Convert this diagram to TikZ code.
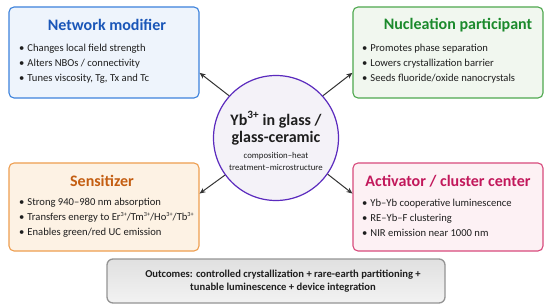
\documentclass[tikz,border=0pt]{standalone}
\usepackage{fontspec}
\setmainfont{Carlito}
\usetikzlibrary{arrows.meta,calc}
\definecolor{nmT}{HTML}{1A56B8}\definecolor{nmB}{HTML}{3C82DC}\definecolor{nmF}{HTML}{EEF4FC}
\definecolor{ncT}{HTML}{1B8A2C}\definecolor{ncB}{HTML}{4EA84E}\definecolor{ncF}{HTML}{F1F7EF}
\definecolor{szT}{HTML}{C45E12}\definecolor{szB}{HTML}{EE9E50}\definecolor{szF}{HTML}{FDF2E4}
\definecolor{acT}{HTML}{C2185B}\definecolor{acB}{HTML}{D84A7C}\definecolor{acF}{HTML}{FDF1F4}
\definecolor{ciB}{HTML}{5B2BBE}\definecolor{ciF}{HTML}{F4F2F8}
\definecolor{arr}{HTML}{333333}\definecolor{txt}{HTML}{1E1E1E}
\newcommand\supx[1]{\raisebox{0.75ex}{\fontsize{6.2}{6.2}\selectfont #1}}
\begin{document}
\begin{tikzpicture}[x=1pt,y=-1pt,
  rolebox/.style={draw, rounded corners=5pt, line width=1.1pt, minimum width=190pt, minimum height=#1, inner sep=0pt},
  roletitle/.style={font=\fontsize{16}{18}\selectfont\bfseries, inner sep=0pt, anchor=center},
  bullets/.style={font=\fontsize{10.6}{15}\selectfont, text=txt, align=left, anchor=west, inner sep=0pt},
  conn/.style={draw=arr, line width=1pt, -{Stealth[length=6pt,width=5pt]}}]
\useasboundingbox (0,0) rectangle (550,305);
\fill[white] (0,0) rectangle (550,305);
% boxes
\node[rolebox=91pt, draw=nmB, fill=nmF] (nm) at (104,52.5) {};
\node[rolebox=91pt, draw=ncB, fill=ncF] (nc) at (448,52.5) {};
\node[rolebox=88pt, draw=szB, fill=szF] (sz) at (104,207) {};
\node[rolebox=88pt, draw=acB, fill=acF] (ac) at (448,207) {};
% titles
\node[roletitle, text=nmT] (nmt) at (107,25) {Network modifier};
\node[roletitle, text=ncT] (nct) at (458,25) {Nucleation participant};
\node[roletitle, text=szT] (szt) at (102,181) {Sensitizer};
\node[roletitle, text=acT] (act) at (448,181) {Activator / cluster center};
% bullets
\node[bullets] (nmb) at (19,64) {\textbullet\hspace{3pt}Changes local field strength\\\textbullet\hspace{3pt}Alters NBOs / connectivity\\\textbullet\hspace{3pt}Tunes viscosity, Tg, Tx and Tc};
\node[bullets] (ncb) at (362,64) {\textbullet\hspace{3pt}Promotes phase separation\\\textbullet\hspace{3pt}Lowers crystallization barrier\\\textbullet\hspace{3pt}Seeds fluoride/oxide nanocrystals};
\node[bullets] (szb) at (19,218) {\textbullet\hspace{3pt}Strong 940--980 nm absorption\\\textbullet\hspace{3pt}Transfers energy to Er\supx{3+}/Tm\supx{3+}/Ho\supx{3+}/Tb\supx{3+}\\\textbullet\hspace{3pt}Enables green/red UC emission};
\node[bullets] (acb) at (362,218) {\textbullet\hspace{3pt}Yb--Yb cooperative luminescence\\\textbullet\hspace{3pt}RE--Yb--F clustering\\\textbullet\hspace{3pt}NIR emission near 1000 nm};
% center
\node[circle, draw=ciB, fill=ciF, line width=1.2pt, minimum size=125pt, inner sep=0pt] (c) at (276,138) {};
\node[font=\fontsize{16}{17.5}\selectfont\bfseries, text=txt, align=center, inner sep=0pt] (ct) at (276,128.5)
  {Yb\textsuperscript{3+} in glass /\\glass-ceramic};
\node[font=\fontsize{8.8}{11.5}\selectfont, text=txt, align=center, inner sep=0pt] (cs) at (276,161.5)
  {composition--heat\\treatment--microstructure};
% arrows
\draw[conn] (c.138) -- (nm.-12);
\draw[conn] (c.42) -- (nc.192);
\draw[conn] (c.216) -- (sz.8);
\draw[conn] (c.-35) -- (ac.172);
% outcomes
\node[draw=black!42, line width=1.3pt, rounded corners=6pt, top color=black!12, bottom color=black!5,
  minimum width=338pt, minimum height=44pt, inner sep=0pt] (oc) at (276,281) {};
\node[font=\fontsize{10.6}{13}\selectfont\bfseries, text=txt, align=center, inner sep=0pt] (oct) at (283,281.5)
  {Outcomes: controlled crystallization + rare-earth partitioning +\\tunable luminescence + device integration};
\end{tikzpicture}
\end{document}
